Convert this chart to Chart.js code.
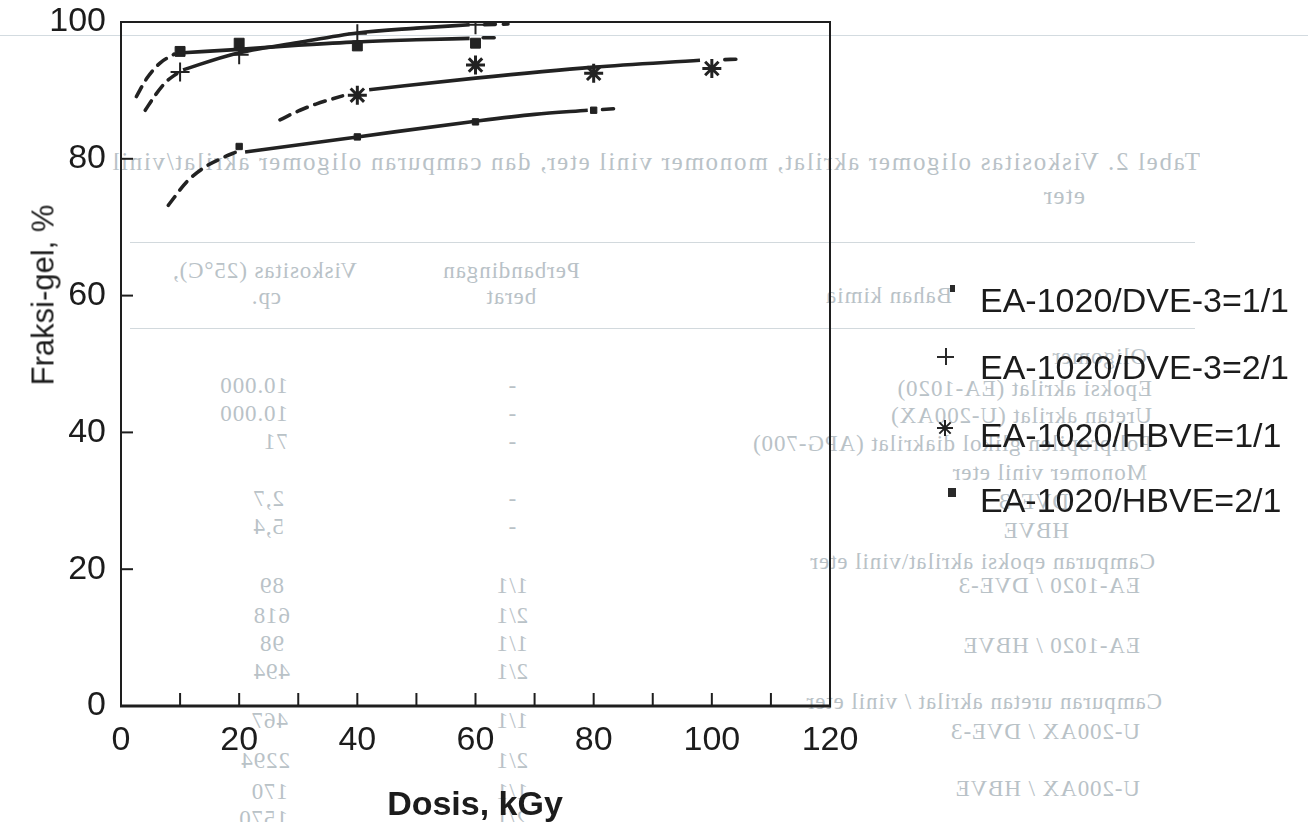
<!DOCTYPE html>
<html>
<head>
<meta charset="utf-8">
<title>Fraksi-gel vs Dosis</title>
<script src="https://cdn.jsdelivr.net/npm/chart.js@4.4.1/dist/chart.umd.min.js"></script>
<style>
  html, body { margin: 0; padding: 0; background: #ffffff; }
  #page { position: relative; width: 1308px; height: 822px; overflow: hidden; background: #ffffff; }
  /* faint print from the reverse side of the sheet (reads mirrored) */
  #verso { position: absolute; left: 0; top: 0; width: 1308px; height: 822px;
           transform: scaleX(-1); font-family: "Liberation Serif", "DejaVu Serif", serif;
           color: #b9c2c7; font-size: 23px; }
  #verso div { position: absolute; white-space: nowrap; line-height: 1; letter-spacing: 0.9px; }
  #verso .rule { height: 1px; background: #d2d9dd; }
  #verso .c { transform: translateX(-50%); }
  #sheetLine { position: absolute; left: 0; top: 35px; width: 1308px; height: 1px; background: #d3dbe0; }
  #chart { position: absolute; left: 0; top: 0; }
  .txt { position: absolute; white-space: nowrap; font-family: "Liberation Sans", Arial, sans-serif; color: #1c1c1c; line-height: 1; }
  #xTitle { left: 475px; top: 803px; transform: translate(-50%, -50%); font-size: 34px; font-weight: bold; }
  #yTitle { left: 43px; top: 295px; transform: translate(-50%, -50%) rotate(-90deg); font-size: 31px; }
  .leg { font-size: 34px; left: 980px; transform: translateY(-50%); }
  .mk { position: absolute; background: #2a2a2a; }
</style>
</head>
<body>
<div id="page">
  <div id="sheetLine"></div>
  <div id="verso"></div>
  <canvas id="chart" width="1308" height="822"></canvas>

  <div class="txt" id="yTitle">Fraksi-gel, %</div>
  <div class="txt" id="xTitle">Dosis, kGy</div>

  <!-- legend -->
  <div class="mk" style="left:950px; top:285px; width:5px; height:7px;"></div>
  <div class="txt leg" style="top:300px;">EA-1020/DVE-3=1/1</div>

  <div class="mk" style="left:937px; top:356px; width:17px; height:2px;"></div>
  <div class="mk" style="left:944.5px; top:348px; width:2px; height:17px;"></div>
  <div class="txt leg" style="top:367px;">EA-1020/DVE-3=2/1</div>

  <canvas id="starMark" width="24" height="24" style="position:absolute; left:933px; top:416px;"></canvas>
  <div class="txt leg" style="top:435px;">EA-1020/HBVE=1/1</div>

  <div class="mk" style="left:948px; top:488px; width:8px; height:9px;"></div>
  <div class="txt leg" style="top:500px;">EA-1020/HBVE=2/1</div>
</div>

<script>
// ---- axis setup ----
const doseMin = 0, doseMax = 120, doseStep = 10;
const doseLabels = [0, 20, 40, 60, 80, 100, 120];
const gelMin = 0, gelMax = 100, gelStep = 20;

// ---- EA-1020/DVE-3 = 1/1 ----
const dve11Dose     = [20, 40, 60, 80];
const dve11Gel      = [81.8, 83.2, 85.4, 87.1];
const dve11FitDose  = [21, 40, 60, 70, 79];
const dve11FitGel   = [81.0, 83.2, 85.5, 86.5, 87.1];
const dve11LeadDose = [8.0, 11.2, 14.2, 17.6, 19.5];
const dve11LeadGel  = [73.2, 76.7, 78.8, 80.3, 81.0];
const dve11TailDose = [81.5, 84.5];
const dve11TailGel  = [87.2, 87.4];

// ---- EA-1020/DVE-3 = 2/1 ----
const dve21Dose     = [10, 20, 40, 60];
const dve21Gel      = [92.7, 95.2, 98.3, 99.6];
const dve21FitDose  = [10.5, 19, 30, 40, 50, 59];
const dve21FitGel   = [93.0, 95.3, 97.0, 98.4, 99.1, 99.6];
const dve21LeadDose = [4.1, 5.8, 7.7, 9.5];
const dve21LeadGel  = [87.1, 89.3, 91.3, 92.5];
const dve21TailDose = [61.5, 65.5];
const dve21TailGel  = [99.6, 99.7];

// ---- EA-1020/HBVE = 1/1 ----
const hbve11Dose     = [40, 60, 80, 100];
const hbve11Gel      = [89.3, 93.7, 92.5, 93.2];
const hbve11FitDose  = [42, 60, 80, 98];
const hbve11FitGel   = [90.1, 91.8, 93.4, 94.4];
const hbve11LeadDose = [26.9, 30.3, 33.0, 37.5];
const hbve11LeadGel  = [85.7, 87.1, 88.0, 89.2];
const hbve11TailDose = [102.2, 105.3];
const hbve11TailGel  = [94.5, 94.6];

// ---- EA-1020/HBVE = 2/1 ----
const hbve21Dose     = [10, 20, 40, 60];
const hbve21Gel      = [95.7, 96.9, 96.5, 96.9];
const hbve21FitDose  = [10.5, 20, 30, 40, 50, 59];
const hbve21FitGel   = [95.5, 96.0, 96.6, 97.1, 97.4, 97.6];
const hbve21LeadDose = [2.6, 4.4, 6.6, 9.0];
const hbve21LeadGel  = [89.1, 91.8, 94.0, 95.3];
const hbve21TailDose = [61.3, 64.2];
const hbve21TailGel  = [97.7, 97.7];

// ---- reverse-side table text: [text, left, centreY, size, centred, spacing] ----
const versoLines = [
  ["Tabel 2.  Viskositas oligomer akrilat, monomer vinil eter, dan campuran oligomer akrilat/vinil", 108, 163, 25, false, 1.7],
  ["eter", 223, 197, 25, false, 1.2],
  ["Bahan kimia", 356, 297, 23, false],
  ["Perbandingan", 797, 272, 23, true],
  ["berat", 797, 298, 23, true],
  ["Viskositas (25°C),", 951, 272, 23, false],
  ["cp.", 1042, 298, 23, true],
  ["Oligomer", 161, 358, 23, false],
  ["Epoksi akrilat (EA-1020)", 156, 390, 23, false],
  ["Uretan akrilat (U-200AX)", 156, 417, 23, false],
  ["Polipropilen glikol diakrilat (APG-700)", 156, 445, 23, false],
  ["Monomer vinil eter", 161, 474, 23, false],
  ["DVE-3", 239, 503, 23, false],
  ["HBVE", 239, 532, 23, false],
  ["Campuran epoksi akrilat\\vinil eter", 153, 563, 23, false],
  ["EA-1020 / DVE-3", 168, 587, 23, false],
  ["EA-1020 / HBVE", 168, 647, 23, false],
  ["Campuran uretan akrilat / vinil eter", 146, 703, 23, false],
  ["U-200AX / DVE-3", 168, 733, 23, false],
  ["U-200AX / HBVE", 168, 790, 23, false],
  ["10.000", 1020, 387, 23, false],
  ["10.000", 1020, 415, 23, false],
  ["71", 1020, 443, 23, false],
  ["2,7", 1024, 500, 23, false],
  ["5,4", 1024, 528, 23, false],
  ["89", 1024, 587, 23, false],
  ["618", 1018, 617, 23, false],
  ["98", 1024, 645, 23, false],
  ["494", 1018, 673, 23, false],
  ["467", 1020, 722, 23, false],
  ["2294", 1018, 762, 23, false],
  ["170", 1020, 793, 23, false],
  ["1570", 1020, 820, 23, false],
  ["-", 796, 387, 23, true],
  ["-", 796, 415, 23, true],
  ["-", 796, 443, 23, true],
  ["-", 796, 500, 23, true],
  ["-", 796, 528, 23, true],
  ["1/1", 796, 587, 23, true],
  ["2/1", 796, 617, 23, true],
  ["1/1", 796, 645, 23, true],
  ["2/1", 796, 673, 23, true],
  ["1/1", 796, 722, 23, true],
  ["2/1", 796, 762, 23, true],
  ["1/1", 796, 793, 23, true],
  ["2/1", 796, 820, 23, true]
];
const versoRules = [[113, 242, 1065], [113, 328, 1065]];

const verso = document.getElementById('verso');
versoLines.forEach(([t, x, y, s, centred, sp]) => {
  const d = document.createElement('div');
  d.textContent = t;
  d.style.left = x + 'px';
  d.style.top = (y - s * 0.55) + 'px';
  d.style.fontSize = s + 'px';
  if (sp !== undefined) d.style.letterSpacing = sp + 'px';
  if (centred) d.className = 'c';
  verso.appendChild(d);
});
versoRules.forEach(([x, y, w]) => {
  const d = document.createElement('div');
  d.className = 'rule';
  d.style.left = x + 'px';
  d.style.top = y + 'px';
  d.style.width = w + 'px';
  verso.appendChild(d);
});

// ---- helpers ----
const pts = (xs, ys) => xs.map((x, i) => ({ x: x, y: ys[i] }));
const ink = '#222222';
const curve = (xs, ys) => ({
  data: pts(xs, ys), showLine: true, pointRadius: 0, borderColor: ink,
  borderWidth: 3.6, cubicInterpolationMode: 'monotone', fill: false
});
const dashed = (xs, ys) => Object.assign(curve(xs, ys), { borderDash: [11, 8], borderCapStyle: 'round' });
const marks = (label, xs, ys, style, r, lw) => ({
  label: label, data: pts(xs, ys), showLine: false, pointStyle: style,
  pointRadius: r, pointBorderWidth: lw, pointBackgroundColor: ink, pointBorderColor: ink
});

// frame around the plotting area plus inward tick marks
const frameTicks = {
  id: 'frameTicks',
  beforeDatasetsDraw(chart) {
    const { ctx, chartArea: a, scales } = chart;
    ctx.save();
    ctx.strokeStyle = '#1e1e1e';
    ctx.lineWidth = 2;
    ctx.strokeRect(a.left, a.top, a.right - a.left, a.bottom - a.top);
    ctx.lineWidth = 3;
    ctx.beginPath(); ctx.moveTo(a.left - 1, a.bottom); ctx.lineTo(a.right + 1, a.bottom); ctx.stroke();
    ctx.lineWidth = 2;
    scales.x.ticks.forEach(t => {
      if (t.value <= doseMin || t.value >= doseMax) return;
      const px = scales.x.getPixelForValue(t.value);
      ctx.beginPath(); ctx.moveTo(px, a.bottom); ctx.lineTo(px, a.bottom - 13); ctx.stroke();
    });
    scales.y.ticks.forEach(t => {
      if (t.value <= gelMin || t.value >= gelMax) return;
      const py = scales.y.getPixelForValue(t.value);
      ctx.beginPath(); ctx.moveTo(a.left, py); ctx.lineTo(a.left + 12, py); ctx.stroke();
    });
    ctx.restore();
  }
};

const tickFont = { family: '"Liberation Sans", Arial, sans-serif', size: 34 };

new Chart(document.getElementById('chart'), {
  type: 'scatter',
  data: {
    datasets: [
      curve(dve11FitDose, dve11FitGel), dashed(dve11LeadDose, dve11LeadGel), dashed(dve11TailDose, dve11TailGel),
      curve(dve21FitDose, dve21FitGel), dashed(dve21LeadDose, dve21LeadGel), dashed(dve21TailDose, dve21TailGel),
      curve(hbve11FitDose, hbve11FitGel), dashed(hbve11LeadDose, hbve11LeadGel), dashed(hbve11TailDose, hbve11TailGel),
      curve(hbve21FitDose, hbve21FitGel), dashed(hbve21LeadDose, hbve21LeadGel), dashed(hbve21TailDose, hbve21TailGel),
      marks('EA-1020/DVE-3=1/1', dve11Dose, dve11Gel, 'rect', 4.5, 1),
      marks('EA-1020/DVE-3=2/1', dve21Dose, dve21Gel, 'cross', 9.5, 2),
      marks('EA-1020/HBVE=1/1', hbve11Dose, hbve11Gel, 'star', 9.5, 3),
      marks('EA-1020/HBVE=2/1', hbve21Dose, hbve21Gel, 'rect', 7, 1)
    ]
  },
  options: {
    responsive: false,
    animation: false,
    devicePixelRatio: 1,
    layout: { padding: { left: 0, top: 22, right: 478, bottom: 0 } },
    plugins: { legend: { display: false }, tooltip: { enabled: false } },
    scales: {
      x: {
        type: 'linear', min: doseMin, max: doseMax,
        grid: { display: false }, border: { display: false },
        ticks: {
          stepSize: doseStep, autoSkip: false, maxRotation: 0, color: '#1c1c1c', font: tickFont, padding: 6,
          callback: v => doseLabels.includes(v) ? String(v) : ''
        },
        afterFit: s => { s.height = 116; s.paddingLeft = 0; s.paddingRight = 0; }
      },
      y: {
        type: 'linear', min: gelMin, max: gelMax,
        grid: { display: false }, border: { display: false },
        ticks: { stepSize: gelStep, color: '#1c1c1c', font: tickFont, padding: 7 },
        afterFit: s => { s.width = 121; s.paddingTop = 0; s.paddingBottom = 0; }
      }
    }
  },
  plugins: [frameTicks]
});

// legend asterisk drawn with the same point style as the series
const sc = document.getElementById('starMark').getContext('2d');
sc.strokeStyle = ink; sc.lineWidth = 2;
Chart.helpers.drawPoint(sc, { pointStyle: 'star', radius: 8, borderWidth: 2 }, 12, 12);
</script>
</body>
</html>
